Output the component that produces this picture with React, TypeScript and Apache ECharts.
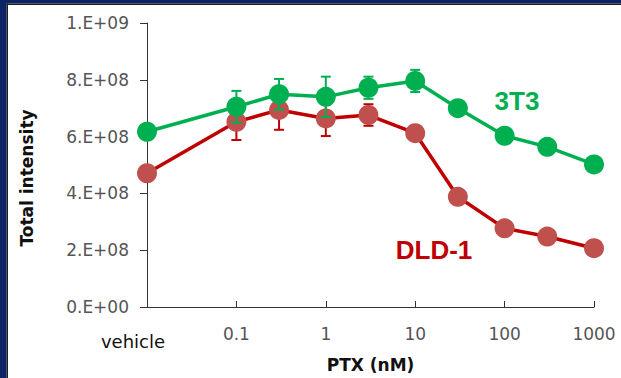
import React, { useEffect, useRef } from 'react';
import * as echarts from 'echarts';

// PTX concentration in nM ("vehicle" is placed at the 0.01 position of the log axis)
const concentrations = [0.01, 0.1, 0.3, 1, 3, 10, 30, 100, 300, 1000];
const series3T3 = [6.17e8, 7.05e8, 7.49e8, 7.4e8, 7.72e8, 7.96e8, 7.0e8, 6.03e8, 5.64e8, 5.02e8];
const err3T3 = [0, 0.56e8, 0.54e8, 0.71e8, 0.39e8, 0.39e8, 0, 0, 0, 0];
const seriesDLD1 = [4.71e8, 6.52e8, 6.94e8, 6.64e8, 6.76e8, 6.12e8, 3.88e8, 2.77e8, 2.48e8, 2.07e8];
const errDLD1 = [0, 0.64e8, 0.7e8, 0.62e8, 0.38e8, 0, 0, 0, 0, 0];
const xTickLabels = ['vehicle', '0.1', '1', '10', '100', '1000'];
const yTickLabels = ['0.E+00', '2.E+08', '4.E+08', '6.E+08', '8.E+08', '1.E+09'];

const GREEN = '#00b050';
const RED_LINE = '#c00000';
const RED_MARK = '#c0504d';
const NAVY = '#0c2466';

function errorSeries(name: string, values: number[], errs: number[], color: string, z: number) {
  return {
    type: 'custom',
    name,
    z,
    data: concentrations.map((c, i) => [c, values[i], errs[i]]),
    encode: { x: 0, y: 1 },
    renderItem: (_params: any, api: any) => {
      const x = api.value(0);
      const y = api.value(1);
      const e = api.value(2);
      if (!e) return { type: 'group', children: [] };
      const top = api.coord([x, y + e]);
      const bot = api.coord([x, y - e]);
      const hw = 5;
      const style = { stroke: color, lineWidth: 2 };
      return {
        type: 'group',
        children: [
          { type: 'line', shape: { x1: top[0], y1: top[1], x2: bot[0], y2: bot[1] }, style },
          { type: 'line', shape: { x1: top[0] - hw, y1: top[1], x2: top[0] + hw, y2: top[1] }, style },
          { type: 'line', shape: { x1: bot[0] - hw, y1: bot[1], x2: bot[0] + hw, y2: bot[1] }, style },
        ],
      };
    },
  };
}

export default function App() {
  const ref = useRef<HTMLDivElement>(null);
  useEffect(() => {
    document.body.style.margin = '0';
    if (!ref.current) return;
    const chart = echarts.init(ref.current, undefined, { renderer: 'svg' });
    chart.setOption({
      animation: false,
      backgroundColor: '#ffffff',
      grid: { left: 147, right: 27, top: 23, bottom: 71 },
      xAxis: {
        type: 'log',
        logBase: 10,
        min: 0.01,
        max: 1000,
        name: 'PTX (nM)',
        nameLocation: 'middle',
        nameGap: 49,
        nameTextStyle: { fontFamily: 'DejaVu Sans', fontWeight: 'bold', fontSize: 17, color: '#111' },
        axisLine: { lineStyle: { color: '#333', width: 1 } },
        axisTick: { inside: true, length: 6, lineStyle: { color: '#333' } },
        minorTick: { show: false },
        splitLine: { show: false },
        axisLabel: {
          margin: 18,
          fontFamily: 'DejaVu Sans',
          fontSize: 17,
          color: '#555',
          formatter: (v: number) => {
            const idx = Math.round(Math.log10(v)) + 2;
            if (idx === 0) return '{v|' + xTickLabels[0] + '}';
            return xTickLabels[idx] ?? '';
          },
          rich: {
            v: { fontFamily: 'DejaVu Sans', fontSize: 18, color: '#111', padding: [7, 28, 0, 0] },
          },
        },
      },
      yAxis: {
        type: 'value',
        min: 0,
        max: 1e9,
        interval: 2e8,
        axisLine: { show: true, lineStyle: { color: '#333', width: 1 } },
        axisTick: { show: true, inside: false, length: 7, lineStyle: { color: '#333' } },
        splitLine: { show: false },
        axisLabel: {
          margin: 18,
          fontFamily: 'DejaVu Sans',
          fontSize: 17,
          color: '#555',
          formatter: (v: number) => yTickLabels[Math.round(v / 2e8)] ?? '',
        },
      },
      graphic: [
        { type: 'rect', shape: { x: 0, y: 0, width: 621, height: 3.5 }, style: { fill: NAVY } },
        { type: 'rect', shape: { x: 0, y: 0, width: 6.5, height: 378 }, style: { fill: NAVY } },
        { type: 'rect', shape: { x: 6.5, y: 3.5, width: 1.5, height: 375 }, style: { fill: '#1e1e24' } },
        { type: 'rect', shape: { x: 6.5, y: 3.5, width: 615, height: 1.5 }, style: { fill: '#1e1e24' } },
        {
          type: 'text',
          x: 27,
          y: 178,
          rotation: Math.PI / 2,
          style: {
            text: 'Total intensity',
            fontFamily: 'DejaVu Sans',
            fontWeight: 'bold',
            fontSize: 17,
            fill: '#111',
            align: 'center',
            verticalAlign: 'middle',
          },
        },
        {
          type: 'text',
          x: 517,
          y: 101,
          style: {
            text: '3T3',
            fontFamily: 'Liberation Sans',
            fontWeight: 'bold',
            fontSize: 26,
            fill: GREEN,
            align: 'center',
            verticalAlign: 'middle',
          },
        },
        {
          type: 'text',
          x: 434,
          y: 250,
          style: {
            text: 'DLD-1',
            fontFamily: 'Liberation Sans',
            fontWeight: 'bold',
            fontSize: 26,
            fill: RED_LINE,
            align: 'center',
            verticalAlign: 'middle',
          },
        },
      ],
      series: [
        errorSeries('DLD-1 error', seriesDLD1, errDLD1, RED_LINE, 1),
        {
          type: 'line',
          name: 'DLD-1',
          z: 2,
          data: concentrations.map((c, i) => [c, seriesDLD1[i]]),
          symbol: 'circle',
          symbolSize: 20,
          lineStyle: { color: RED_LINE, width: 3.5 },
          itemStyle: { color: RED_MARK, borderWidth: 0 },
        },
        errorSeries('3T3 error', series3T3, err3T3, GREEN, 3),
        {
          type: 'line',
          name: '3T3',
          z: 4,
          data: concentrations.map((c, i) => [c, series3T3[i]]),
          symbol: 'circle',
          symbolSize: 20,
          lineStyle: { color: GREEN, width: 3.5 },
          itemStyle: { color: GREEN, borderWidth: 0 },
        },
      ],
    });
    return () => chart.dispose();
  }, []);
  return (
    <div
      ref={ref}
      style={{ position: 'fixed', left: 0, top: 0, width: 621, height: 378, background: '#fff' }}
    />
  );
}
